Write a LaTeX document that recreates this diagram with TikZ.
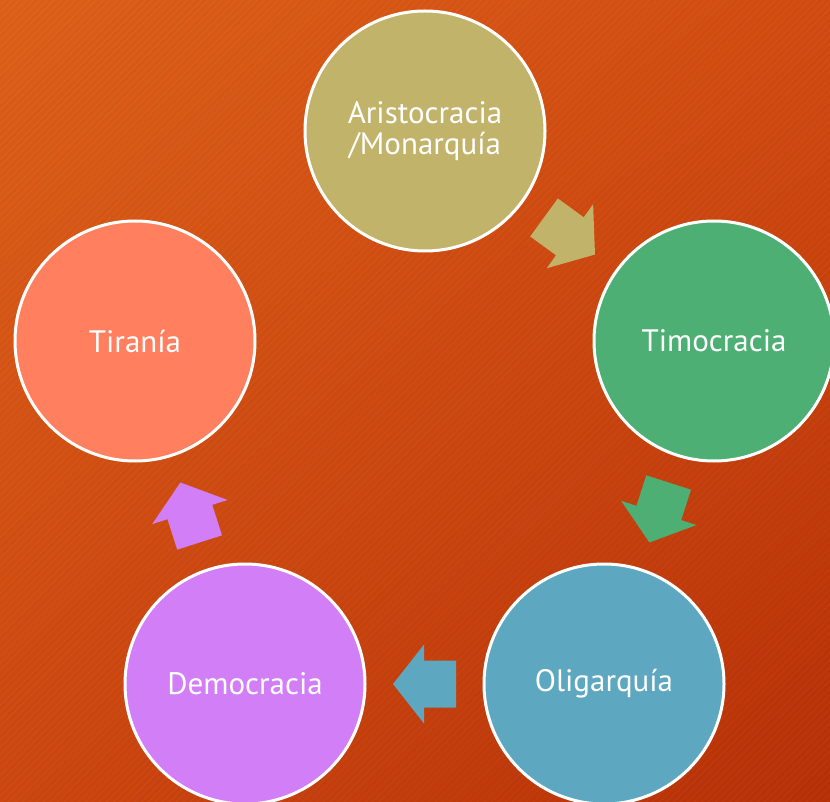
\documentclass[tikz,border=0pt]{standalone}
\usepackage{fontspec}
\setmainfont{PT Sans}
\usetikzlibrary{calc,shadings}
\definecolor{cAri}{HTML}{C2B36B}
\definecolor{cTim}{HTML}{4DAF73}
\definecolor{cOli}{HTML}{5DA7C0}
\definecolor{cDem}{HTML}{D17EF7}
\definecolor{cTir}{HTML}{FF7F5F}
\definecolor{bgTL}{HTML}{E3641B}
\definecolor{bgTR}{HTML}{D74F13}
\definecolor{bgBL}{HTML}{D24A12}
\definecolor{bgBR}{HTML}{BC3309}
\newcommand\blkarrow[3]{%
  \coordinate (m) at ($(#1)!0.5!(#2)$);
  \coordinate (t) at ($(m)!31.5pt!(#1)$);
  \coordinate (n) at ($(m)!0.5pt!(#2)$);
  \coordinate (tip) at ($(m)!31.5pt!(#2)$);
  \fill[#3] ($(t)!23.5pt!90:(#2)$) -- ($(n)!23.5pt!90:(#2)$) -- ($(n)!39.5pt!90:(#2)$) -- (tip)
     -- ($(n)!39.5pt!-90:(#2)$) -- ($(n)!23.5pt!-90:(#2)$) -- ($(t)!23.5pt!-90:(#2)$) -- cycle;
}
\tikzset{
  stage/.style={circle, minimum size=240pt, inner sep=0pt, draw=white, line width=3pt,
    text=white, align=center, font=\fontsize{31}{31}\selectfont},
}
\begin{document}
\begin{tikzpicture}[x=1pt,y=-1pt]
\useasboundingbox (0,0) rectangle (830,802);
\shade[upper left=bgTL, upper right=bgTR, lower left=bgBL, lower right=bgBR] (0,0) rectangle (830,802);
\begin{scope}
  \clip (0,0) rectangle (830,802);
  \foreach \i in {0,7,...,1640} {
    \draw[black, opacity=0.045, line width=3.2pt] (\i,-5) -- ({\i-812},807);
  }
\end{scope}
\node[stage, fill=cAri] (ari) at (425,131) {Aristocracia\\/Monarquía};
\node[stage, fill=cTim] (tim) at (714,341) {Timocracia};
\node[stage, fill=cOli] (oli) at (604,684) {Oligarquía};
\node[stage, fill=cDem] (dem) at (245,684) {Democracia};
\node[stage, fill=cTir] (tir) at (135,341) {Tiranía};
\blkarrow{ari}{tim}{cAri}
\blkarrow{tim}{oli}{cTim}
\blkarrow{oli}{dem}{cOli}
\blkarrow{dem}{tir}{cDem}
\end{tikzpicture}
\end{document}
